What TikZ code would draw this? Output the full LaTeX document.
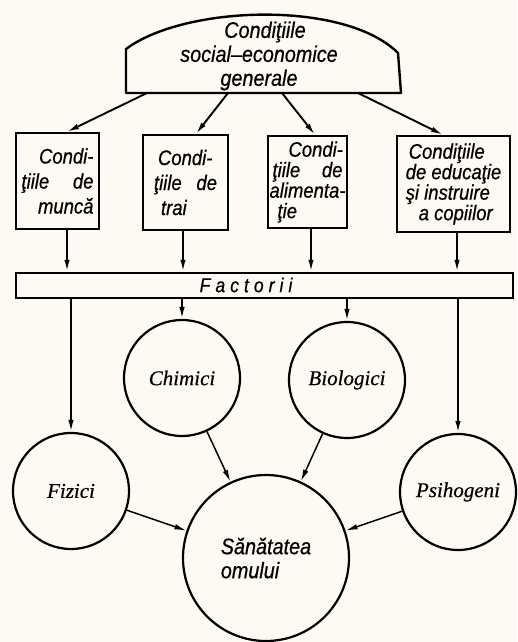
\documentclass[tikz,border=0pt]{standalone}
\usepackage{fontspec}
\setmainfont{Liberation Serif}[ItalicFeatures={FakeBold=0.5}]
\newfontfamily\boxfont{Liberation Sans}[FakeStretch=0.88, ItalicFeatures={FakeBold=0.6}]
\usetikzlibrary{arrows.meta,calc}
\definecolor{paper}{RGB}{252,250,243}
\begin{document}
\begin{tikzpicture}[x=1pt,y=-1pt,
  sansit/.style={font=\boxfont\itshape\fontsize{21}{25}\selectfont},
  sansit4/.style={font=\boxfont\itshape\fontsize{21}{20.5}\selectfont},
  boxnode/.style={draw, line width=2.4pt, inner sep=0pt},
  circ/.style={circle, draw, line width=2.2pt, inner sep=0pt, minimum size=116pt,
    font=\itshape\fontsize{21}{24}\selectfont},
  arr/.style={line width=1.9pt, -{Latex[length=12pt,width=5.5pt]}},
  arrthin/.style={line width=1.5pt, -{Latex[length=12pt,width=5.5pt]}}]
\fill[paper] (0,0) rectangle (517,642);
\useasboundingbox (0,0) rectangle (517,642);

% top shape
\draw[line width=2.4pt, line join=round] (126,93) -- (126,49)
  .. controls (185,5) and (345,0) .. (398,53) -- (401,93) -- cycle;
\node[font=\boxfont\itshape\fontsize{22.5}{24}\selectfont, align=center] (top) at (259,56)
  {\hspace*{12pt}Condiţiile\\social–economice\\generale};
\coordinate (t1) at (147,93);
\coordinate (t2) at (228,93);
\coordinate (t3) at (282,93);
\coordinate (t4) at (358,93);

% boxes
\node[boxnode, sansit, minimum width=83pt, minimum height=96pt, align=right] (b1) at (57.5,181)
  {Condi-\\\hbox to 72pt{ţiile\hfill de}\\muncă};
\node[boxnode, sansit, minimum width=85pt, minimum height=95pt, align=left] (b2) at (185.5,182.5)
  {\hspace*{4pt}Condi-\\\hbox to 63pt{ţiile\hfill de}\\\hspace*{7pt}trai};
\node[boxnode, sansit4, minimum width=79pt, minimum height=92pt, align=left] (b3) at (307.5,182)
  {\hspace*{19pt}Condi-\\\hspace*{3pt}\hbox to 70pt{ţiile\hfill de}\\alimenta-\\\hspace*{8pt}ţie};
\node[boxnode, sansit4, minimum width=113pt, minimum height=96pt, align=left] (b4) at (453.5,184)
  {\hspace*{3pt}Condiţiile\\de educaţie\\şi instruire\\\hspace*{13pt}a copiilor};

% bar
\node[boxnode, minimum width=497pt, minimum height=25pt] (bar) at (264.5,285.5) {};
\node[font=\boxfont\itshape\fontsize{20}{20}\selectfont] (fac) at (246,285)
  {F\kern5pt a\kern5pt c\kern5pt t\kern5pt o\kern5pt r\kern5pt i\kern5pt i};

% circles
\node[circ] (chim) at (182,378) {Chimici};
\node[circ] (bio) at (347,380) {Biologici};
\node[circ] (fiz) at (71,491) {Fizici};
\node[circ] (psi) at (458,492) {Psihogeni};
\node[circle, draw, line width=2.2pt, inner sep=0pt, minimum size=166pt, align=left,
  font=\boxfont\itshape\fontsize{22.5}{24}\selectfont] (san) at (266,558) {Sănătatea\\omului};

% arrows top -> boxes
\draw[arr] (t1) -- ([xshift=9.5pt]b1.north);
\draw[arr] (t2) -- ([xshift=10.5pt]b2.north);
\draw[arr] (t3) -- ([xshift=7.5pt]b3.north);
\draw[arr] (t4) -- ([xshift=-10.5pt]b4.north);

% boxes -> bar
\draw[arr] ([xshift=9.5pt]b1.south) -- ([xshift=9.5pt]b1.south |- bar.north);
\draw[arr] ([xshift=-2.5pt]b2.south) -- ([xshift=-2.5pt]b2.south |- bar.north);
\draw[arr] ([xshift=3.5pt]b3.south) -- ([xshift=3.5pt]b3.south |- bar.north);
\draw[arr] ([xshift=3.5pt]b4.south) -- ([xshift=3.5pt]b4.south |- bar.north);

% bar -> circles
\draw[arr] (bar.south -| fiz) -- (fiz);
\draw[arr] (bar.south -| chim) -- (chim);
\draw[arr] (bar.south -| bio) -- (bio);
\draw[arr] (bar.south -| psi) -- (psi);

% circles -> health
\draw[arrthin] (chim) -- (san);
\draw[arrthin] (bio) -- (san);
\draw[arrthin] (fiz) -- (san);
\draw[arrthin] (psi) -- (san);
\end{tikzpicture}
\end{document}
